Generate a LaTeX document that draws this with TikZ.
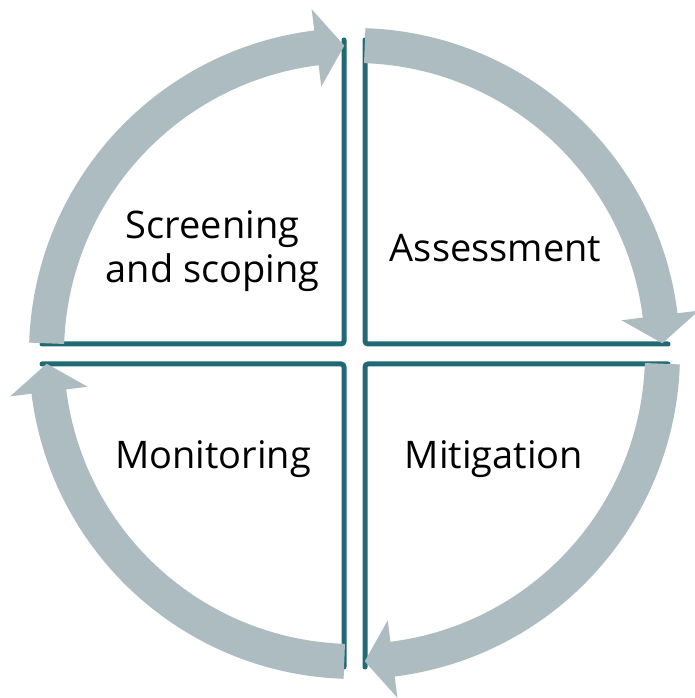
\documentclass[tikz,border=0pt]{standalone}
\usepackage{fontspec}
\setmainfont{Open Sans}
\definecolor{arrowgray}{HTML}{ADBCC1}
\definecolor{quadline}{HTML}{1F6A74}
\begin{document}
\begin{tikzpicture}[x=1pt,y=1pt,
  shaft/.style={draw=arrowgray,line width=35pt,line cap=butt},
  headfill/.style={fill=arrowgray},
  qline/.style={draw=quadline,line width=5pt,rounded corners=3pt,line cap=round},
  lbl/.style={font=\fontsize{38}{44}\selectfont,text=black,inner sep=0pt,align=center}]
\useasboundingbox (0,0) rectangle (694,698);
\coordinate (C) at (354.5,344.5);
% quadrant borders
\draw[qline] (344,658) -- (344,354) -- (42,354);
\draw[qline] (365,658) -- (365,354) -- (668,354);
\draw[qline] (668,334) -- (365,334) -- (365,31);
\draw[qline] (42,334) -- (344,334) -- (344,31);
% circular arrows
\foreach \s in {0,-90,-180,-270}{
  \draw[shaft] ([shift={(178.1+\s:308)}]C) arc[start angle=178.1+\s, end angle=96.5+\s, radius=308];
  \fill[headfill] ([shift={(97.1+\s:269)}]C) -- ([shift={(97.1+\s:347)}]C) -- ([shift={(91.9+\s:308)}]C) -- cycle;
}
% labels
\node[lbl,anchor=base] (scr) at (212.5,459) {Screening};
\node[lbl,anchor=base] (and) at (212.5,415) {and scoping};
\node[lbl,anchor=base] (ass) at (495.5,436) {Assessment};
\node[lbl,anchor=base] (mon) at (213,229) {Monitoring};
\node[lbl,anchor=base] (mit) at (494,229) {Mitigation};
\end{tikzpicture}
\end{document}
